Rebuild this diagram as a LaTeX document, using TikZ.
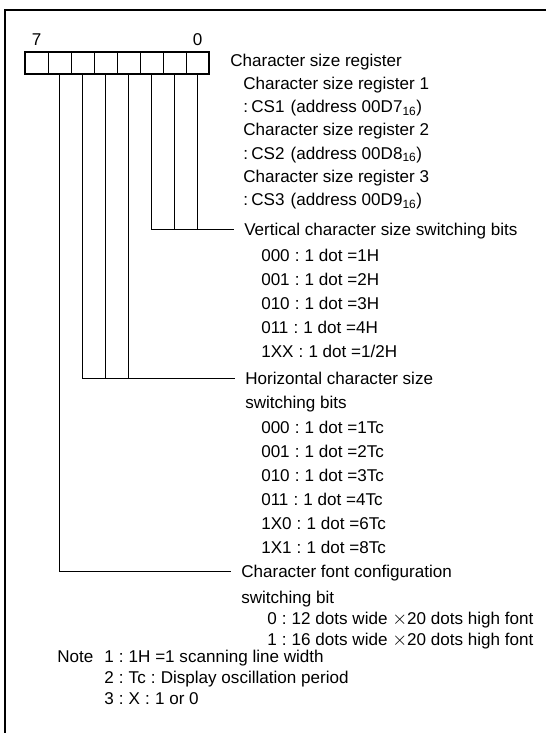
\documentclass[tikz,border=0pt]{standalone}
\usepackage{fontspec}
\setmainfont{Liberation Sans}
\usetikzlibrary{positioning}
\newcommand{\kcol}{\hspace{.3em}:\hspace{.3em}}
\newcommand{\bigx}{{\fontsize{15}{15}\selectfont$\times$}}
\tikzset{
  frameline/.style={line width=1.5pt},
  bitcell/.style={draw,line width=0.6pt,minimum width=17.25pt,minimum height=16.5pt,inner sep=0pt,outer sep=0pt},
  regbox/.style={line width=2.1pt},
  lead/.style={line width=0.6pt},
  lbl/.style={anchor=west,inner sep=0pt,text height=9pt,text depth=0pt,font=\fontsize{12.8}{15}\selectfont},
  hdr/.style={lbl,inner xsep=7.5pt},
  bitno/.style={lbl,anchor=center}
}
\begin{document}
\begin{tikzpicture}[x=0.75pt,y=-0.75pt]
\useasboundingbox (0,0) rectangle (546,733);
% frame, open on the right and at the bottom
\draw[frameline] (5,733) -- (5,10) -- (546,10);
% register, bit 7 on the left
\foreach \b in {0,...,7}
  \node[bitcell] (b\b) at ({197.5-23*\b},63) {};
\draw[regbox] (b7.north west) rectangle (b0.south east);
\node[bitno,above=5pt of b7] (n7) {7};
\node[bitno,above=5pt of b0] (n0) {0};
% register names
\node[lbl] (csr) at (230,60) {Character size register};
\foreach \n/\a in {1/7,2/8,3/9} {
  \node[lbl] (csr\n) at (243,{83+46.7*(\n-1)}) {Character size register \n};
  \node[lbl] (cs\n) at (243,{106.3+46.7*(\n-1)}) {:\hspace{.2em}CS\n\hspace{.35em}(address 00D\a\textsubscript{16})};
}
% vertical size bits
\node[hdr] (vert) at (234,229) {Vertical character size switching bits};
\foreach \t [count=\i] in {000\kcol 1 dot =1H,001\kcol 1 dot =2H,010\kcol 1 dot =3H,011\kcol 1 dot =4H,1XX\kcol 1 dot =1/2H}
  \node[lbl] (v\i) at (261,{255+24*(\i-1)}) {\t};
% horizontal size bits
\node[hdr] (horz) at (235,378) {Horizontal character size};
\node[lbl] (horz2) at (245,402) {switching bits};
\foreach \t [count=\i] in {000\kcol 1 dot =1Tc,001\kcol 1 dot =2Tc,010\kcol 1 dot =3Tc,011\kcol 1 dot =4Tc,1X0\kcol 1 dot =6Tc,1X1\kcol 1 dot =8Tc}
  \node[lbl] (h\i) at (261,{427.5+24*(\i-1)}) {\t};
% font bit
\node[hdr] (font) at (231,571) {Character font configuration};
\node[lbl] (font2) at (241,597) {switching bit};
\node[lbl] (f0) at (267,618) {0\kcol 12 dots wide \bigx20 dots high font};
\node[lbl] (f1) at (267,639) {1\kcol 16 dots wide \bigx20 dots high font};
% notes
\node[lbl] (note) at (57,656) {Note};
\node[lbl] (note1) at (104,656) {1\kcol 1H =1 scanning line width};
\node[lbl] (note2) at (104,677) {2\kcol Tc\kcol Display oscillation period};
\node[lbl] (note3) at (104,698) {3\kcol X\kcol 1 or 0};
% leads from the bits
\draw[lead] (b2.south) |- (vert.west);
\foreach \b in {1,0}
  \draw[lead] (b\b.south) -- (b\b.south |- vert.west);
\draw[lead] (b5.south) |- (horz.west);
\foreach \b in {4,3}
  \draw[lead] (b\b.south) -- (b\b.south |- horz.west);
\draw[lead] (b6.south) |- (font.west);
\end{tikzpicture}
\end{document}
